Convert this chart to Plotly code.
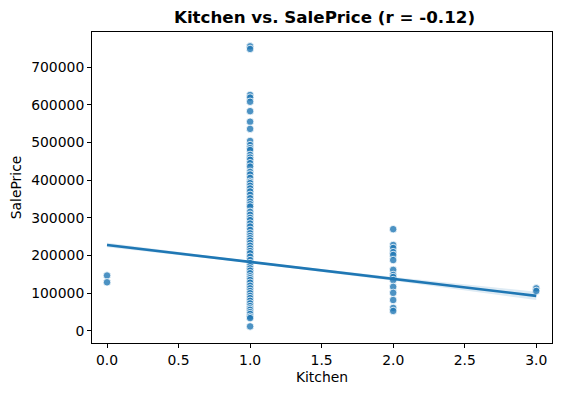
import plotly.graph_objects as go

# Data
kitchen0_prices = [147000, 129000]
kitchen1_prices = [755000, 748000, 626000, 619000, 608000, 583000, 555000, 536000,
                   504000, 493000, 485000, 480000, 467000, 460000, 454000, 445000,
                   436000, 422000, 415000, 406000, 396000, 392000, 385000, 378000,
                   370000, 361000, 352000, 343000, 336000, 330000, 316000, 308000,
                   300000, 294000, 285000, 277000, 268000, 259000, 252000, 246000,
                   240000, 233000, 226000, 219000, 212000, 206000, 197000, 188000,
                   180000, 172000, 166000, 160000, 153000, 145000, 140000, 135000,
                   128000, 120000, 113000, 106000, 100000, 93000, 87000, 80000,
                   73000, 66000, 60000, 56000, 50000, 45000, 38000, 34000, 12000]
kitchen2_prices = [270000, 228000, 220000, 209000, 201500, 188000, 162000, 148500,
                   143000, 135000, 117000, 101000, 82000, 61000, 53000]
kitchen3_prices = [113000, 106000]

reg_x = [0, 1, 2, 3]
reg_y = [228000, 183000, 138000, 93000]
ci_half = [6000, 2500, 5000, 11000]

x_ticks = [0.0, 0.5, 1.0, 1.5, 2.0, 2.5, 3.0]
y_ticks = [0, 100000, 200000, 300000, 400000, 500000, 600000, 700000]

xs, ys = [], []
for k, arr in [(0, kitchen0_prices), (1, kitchen1_prices), (2, kitchen2_prices), (3, kitchen3_prices)]:
    xs += [k] * len(arr)
    ys += arr

fig = go.Figure()
fig.add_trace(go.Scatter(
    x=xs, y=ys, mode="markers",
    marker=dict(size=7.5, color="rgba(31,119,180,0.8)", line=dict(color="white", width=0.8)),
    showlegend=False, hoverinfo="skip"))

upper = [y + h for y, h in zip(reg_y, ci_half)]
lower = [y - h for y, h in zip(reg_y, ci_half)]
fig.add_trace(go.Scatter(x=reg_x + reg_x[::-1], y=upper + lower[::-1], fill="toself",
                         fillcolor="rgba(31,119,180,0.15)", line=dict(width=0),
                         mode="lines", showlegend=False, hoverinfo="skip"))
fig.add_trace(go.Scatter(x=reg_x, y=reg_y, mode="lines",
                         line=dict(color="#1f77b4", width=2.6), showlegend=False))

axis_common = dict(showline=True, linecolor="black", linewidth=1, mirror=True,
                   ticks="outside", ticklen=4, tickcolor="black", showgrid=False,
                   zeroline=False, automargin=False, tickfont=dict(size=13.9, color="black"))
fig.update_layout(
    width=566, height=393,
    margin=dict(l=84, r=22, t=24, b=58),
    paper_bgcolor="white", plot_bgcolor="white",
    font=dict(family="DejaVu Sans", color="black"),
    title=dict(text="<b>Kitchen vs. SalePrice (r = -0.12)</b>", x=316.5 / 566, xanchor="center",
               y=1 - 9.5 / 393, yref="container", yanchor="middle", font=dict(size=16.7)),
    xaxis=dict(range=[-0.105, 3.11], tickvals=x_ticks, ticktext=[f"{v:.1f}" for v in x_ticks],
               title=dict(text="Kitchen", font=dict(size=13.9), standoff=5), **axis_common),
    yaxis=dict(range=[-32000, 793000], tickvals=y_ticks, ticktext=[str(v) for v in y_ticks],
               title=dict(text="SalePrice", font=dict(size=13.9), standoff=6), **axis_common),
)
fig.write_html("out.html")
